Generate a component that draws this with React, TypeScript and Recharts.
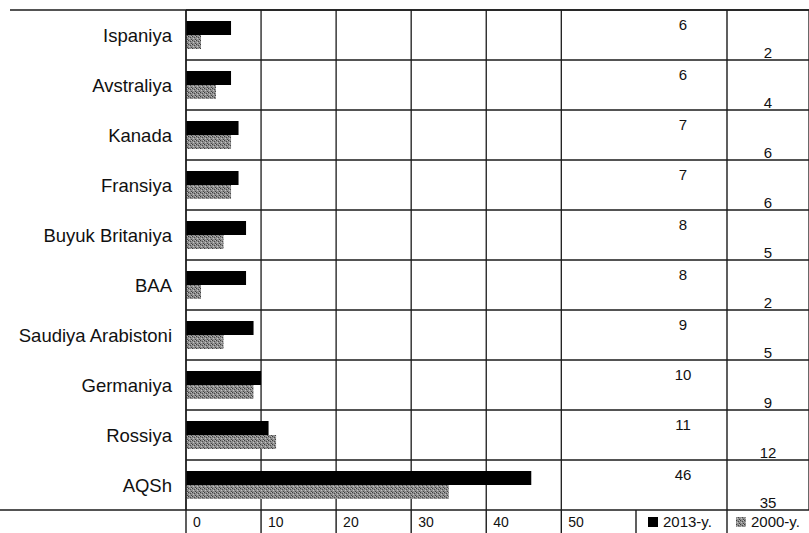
import {
  Bar,
  BarChart,
  CartesianGrid,
  Customized,
  LabelList,
  XAxis,
  YAxis,
} from "recharts";

const COUNTRIES = [
  "Ispaniya",
  "Avstraliya",
  "Kanada",
  "Fransiya",
  "Buyuk Britaniya",
  "BAA",
  "Saudiya Arabistoni",
  "Germaniya",
  "Rossiya",
  "AQSh",
];
const VALUES_2013 = [6, 6, 7, 7, 8, 8, 9, 10, 11, 46];
const VALUES_2000 = [2, 4, 6, 6, 5, 2, 5, 9, 12, 35];
const X_TICKS = [0, 10, 20, 30, 40, 50];
const SERIES_NAMES = ["2013-y.", "2000-y."];

const W = 809;
const H = 533;
const TOP = 10;
const AXIS_H = 23;
const LABEL_W = 186;
// plot keeps going under the value table on the right
const X_MAX = 83;

// table columns on the right
const COL_2013 = 683;
const COL_2000 = 768;
const COL_SPLIT = 727;
const LEGEND_SPLIT = 636;

const FONT = "'Liberation Sans', Arial, sans-serif";
const INK = "#111";
const LINE = "#1a1a1a";

const data = COUNTRIES.map((name, i) => ({
  name,
  y2013: VALUES_2013[i],
  y2000: VALUES_2000[i],
}));

function XTick({ x, y, payload }: any) {
  return (
    <text x={x + 7} y={y - 6} fontSize={14} fill={INK} fontFamily={FONT}>
      {payload.value}
    </text>
  );
}

function valueLabel(colX: number, dy: number) {
  return (props: any) => {
    const { y, height, value } = props;
    return (
      <text
        x={colX}
        y={Number(y) + Number(height) / 2 + dy}
        textAnchor="middle"
        dominantBaseline="central"
        fontSize={15}
        fill={INK}
        fontFamily={FONT}
      >
        {value}
      </text>
    );
  };
}

function TableFrame() {
  const bottom = H - AXIS_H;
  return (
    <g>
      <defs>
        <pattern id="grain" width="4" height="4" patternUnits="userSpaceOnUse">
          <rect width="4" height="4" fill="#8e8e8e" />
          <rect x="0" y="0" width="1" height="1" fill="#3c3c3c" />
          <rect x="2" y="1" width="1" height="1" fill="#4a4a4a" />
          <rect x="1" y="2" width="1" height="1" fill="#c4c4c4" />
          <rect x="3" y="3" width="1" height="1" fill="#444" />
          <rect x="3" y="0" width="1" height="1" fill="#bbb" />
        </pattern>
      </defs>
      <line x1={10} x2={W} y1={TOP} y2={TOP} stroke={LINE} strokeWidth={1.3} />
      <line x1={0} x2={W} y1={bottom} y2={bottom} stroke={LINE} strokeWidth={1.3} />
      <line x1={COL_SPLIT} x2={COL_SPLIT} y1={TOP} y2={H} stroke={LINE} strokeWidth={1.4} />
      <line x1={LEGEND_SPLIT} x2={LEGEND_SPLIT} y1={bottom} y2={H} stroke={LINE} strokeWidth={1.4} />
      <rect x={648} y={517} width={10} height={10} fill="#000" />
      <text x={663} y={527} fontSize={15} fill={INK} fontFamily={FONT}>
        {SERIES_NAMES[0]}
      </text>
      <rect x={736} y={517} width={10} height={10} fill="url(#grain)" />
      <text x={751} y={527} fontSize={15} fill={INK} fontFamily={FONT}>
        {SERIES_NAMES[1]}
      </text>
    </g>
  );
}

export default function App() {
  return (
    <div style={{ position: "absolute", left: 0, top: 0, background: "#fff" }}>
      <BarChart
        width={W}
        height={H}
        data={data}
        layout="vertical"
        margin={{ top: TOP, right: 0, bottom: 0, left: 0 }}
        barGap={0}
        barCategoryGap={11}
      >
        <Customized component={TableFrame} />
        <CartesianGrid
          stroke={LINE}
          strokeWidth={1.3}
          horizontalCoordinatesGenerator={({ offset }: any) =>
            COUNTRIES.map((_, i) => offset.top + (i * offset.height) / COUNTRIES.length)
          }
        />
        <XAxis
          type="number"
          domain={[0, X_MAX]}
          ticks={X_TICKS}
          height={AXIS_H}
          axisLine={false}
          tickLine={{ stroke: LINE, strokeWidth: 1.4 }}
          tickSize={AXIS_H}
          tickMargin={0}
          tick={<XTick />}
        />
        <YAxis
          type="category"
          dataKey="name"
          width={LABEL_W}
          axisLine={{ stroke: LINE, strokeWidth: 1.4 }}
          tickLine={false}
          tickSize={0}
          tickMargin={14}
          tick={{ fontSize: 18.5, fill: INK, fontFamily: FONT }}
          interval={0}
        />
        <Bar dataKey="y2013" name={SERIES_NAMES[0]} fill="#000" barSize={14} isAnimationActive={false}>
          <LabelList dataKey="y2013" content={valueLabel(COL_2013, -4)} />
        </Bar>
        <Bar dataKey="y2000" name={SERIES_NAMES[1]} fill="url(#grain)" barSize={14} isAnimationActive={false}>
          <LabelList dataKey="y2000" content={valueLabel(COL_2000, 10)} />
        </Bar>
      </BarChart>
    </div>
  );
}
